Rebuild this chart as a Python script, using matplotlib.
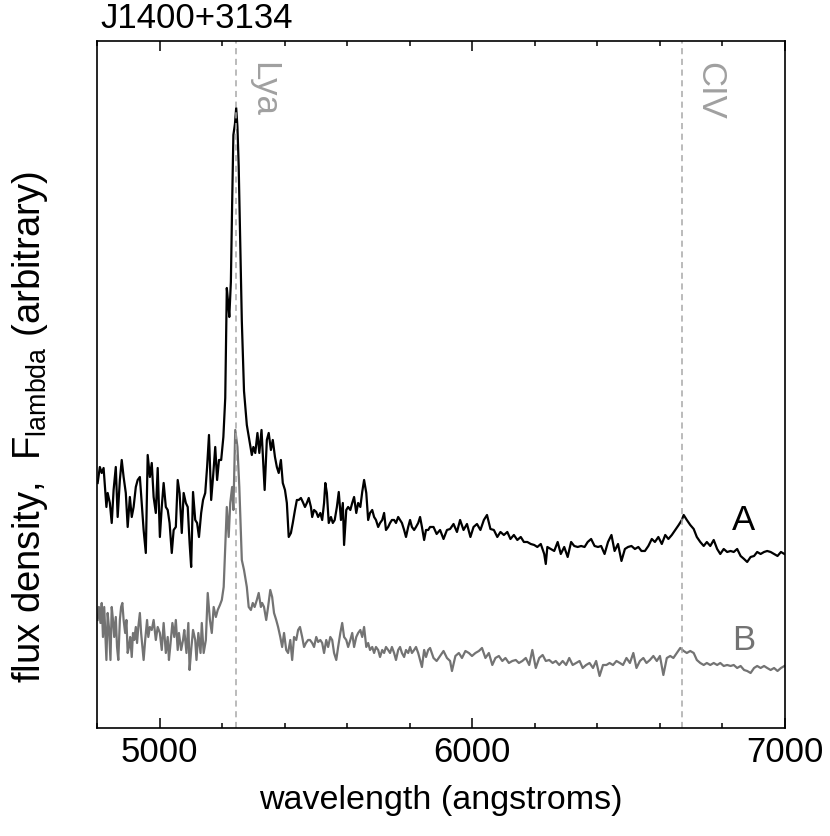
import numpy as np
import matplotlib
matplotlib.use("Agg")
import matplotlib.pyplot as plt
from matplotlib.ticker import MultipleLocator

plt.rcParams["font.family"] = ["Liberation Sans", "DejaVu Sans"]
plt.rcParams["mathtext.fontset"] = "custom"
plt.rcParams["mathtext.rm"] = "Liberation Sans"
plt.rcParams["mathtext.it"] = "Liberation Sans"

# spectre A (noir), longueur d'onde en angstroms, flux arbitraire
wave_a = [
    4802, 4809, 4815, 4821, 4826, 4830, 4834, 4841, 4847, 4853,
    4860, 4866, 4873, 4879, 4885, 4892, 4898, 4905, 4911, 4917,
    4924, 4930, 4937, 4943, 4949, 4956, 4962, 4969, 4975, 4981,
    4988, 4994, 5001, 5007, 5013, 5020, 5026, 5032, 5039, 5045,
    5052, 5058, 5064, 5071, 5077, 5084, 5090, 5096, 5101, 5107,
    5114, 5120, 5126, 5133, 5139, 5146, 5152, 5158, 5165, 5171,
    5178, 5184, 5190, 5197, 5204, 5210, 5215, 5220, 5223, 5228,
    5232, 5236, 5241, 5245, 5249, 5253, 5258, 5263, 5270, 5279,
    5287, 5295, 5300, 5306, 5313, 5319, 5326, 5336, 5343, 5349,
    5356, 5362, 5369, 5375, 5381, 5388, 5394, 5401, 5407, 5413,
    5420, 5426, 5433, 5439, 5445, 5452, 5458, 5465, 5471, 5477,
    5484, 5488, 5494, 5501, 5507, 5514, 5520, 5526, 5530, 5535,
    5541, 5548, 5554, 5560, 5567, 5573, 5580, 5586, 5590, 5597,
    5603, 5610, 5616, 5622, 5629, 5635, 5642, 5648, 5654, 5661,
    5667, 5673, 5680, 5686, 5692, 5699, 5705, 5712, 5718, 5724,
    5731, 5737, 5743, 5750, 5756, 5763, 5769, 5775, 5782, 5788,
    5795, 5801, 5807, 5814, 5820, 5827, 5833, 5839, 5846, 5852,
    5859, 5865, 5876, 5886, 5897, 5908, 5919, 5929, 5940, 5951,
    5961, 5972, 5983, 5994, 6004, 6015, 6026, 6037, 6047, 6058,
    6069, 6080, 6090, 6101, 6112, 6122, 6133, 6144, 6155, 6165,
    6176, 6187, 6198, 6208, 6219, 6230, 6235, 6240, 6251, 6262,
    6273, 6283, 6294, 6305, 6316, 6326, 6337, 6348, 6359, 6369,
    6380, 6391, 6402, 6412, 6423, 6434, 6445, 6455, 6466, 6477,
    6488, 6498, 6509, 6520, 6531, 6541, 6552, 6563, 6574, 6584,
    6595, 6606, 6617, 6627, 6638, 6649, 6660, 6670, 6676, 6686,
    6697, 6708, 6718, 6729, 6740, 6750, 6761, 6772, 6783, 6793,
    6804, 6815, 6826, 6836, 6847, 6858, 6869, 6879, 6890, 6901,
    6911, 6922, 6933, 6943, 6954, 6965, 6976, 6987, 6998,
]
flux_a = [
    2.45, 2.61, 2.55, 2.60, 2.38, 2.21, 2.35, 2.25, 2.05, 2.38,
    2.61, 2.11, 2.48, 2.68, 2.51, 2.35, 2.01, 2.31, 2.11, 2.21,
    2.41, 2.48, 2.51, 2.25, 1.98, 1.75, 2.73, 2.51, 2.65, 2.31,
    2.15, 2.60, 1.91, 2.21, 2.45, 2.21, 2.18, 2.05, 1.75, 1.98,
    2.01, 2.48, 2.35, 1.95, 2.35, 2.25, 2.21, 1.85, 1.61, 2.36,
    2.08, 2.05, 1.91, 2.15, 2.28, 2.35, 2.61, 2.93, 2.28, 2.51,
    2.81, 2.48, 2.68, 2.68, 2.91, 3.30, 4.40, 4.23, 4.11, 4.46,
    5.23, 5.93, 6.04, 6.20, 6.01, 5.62, 4.84, 4.07, 3.37, 3.03,
    2.88, 2.73, 2.81, 2.75, 2.95, 2.75, 2.98, 2.38, 2.88, 2.95,
    2.78, 2.88, 2.71, 2.61, 2.55, 2.68, 2.45, 2.38, 2.25, 1.91,
    1.95, 2.05, 2.18, 2.28, 2.28, 2.30, 2.26, 2.21, 2.25, 2.30,
    2.21, 2.11, 2.18, 2.16, 2.11, 2.15, 2.08, 2.25, 2.45, 2.35,
    2.05, 2.11, 2.05, 2.08, 2.21, 2.36, 2.08, 2.25, 1.83, 2.18,
    2.21, 2.18, 2.25, 2.31, 2.15, 2.25, 2.21, 2.36, 2.48, 2.35,
    2.08, 2.15, 2.18, 2.11, 2.08, 2.01, 2.05, 2.08, 2.15, 1.98,
    2.01, 2.05, 2.08, 2.08, 2.05, 2.11, 2.08, 2.05, 1.98, 1.91,
    2.01, 2.08, 2.01, 1.98, 2.01, 2.05, 2.11, 2.01, 1.88, 1.98,
    1.98, 2.01, 2.01, 1.94, 1.98, 1.89, 1.98, 1.99, 2.04, 1.96,
    2.08, 1.98, 2.04, 1.91, 2.01, 2.04, 1.98, 2.08, 2.13, 1.99,
    1.98, 1.91, 1.96, 1.93, 1.96, 1.89, 1.93, 1.88, 1.91, 1.86,
    1.86, 1.84, 1.83, 1.81, 1.84, 1.74, 1.64, 1.81, 1.79, 1.77,
    1.86, 1.74, 1.81, 1.71, 1.86, 1.82, 1.81, 1.82, 1.81, 1.86,
    1.89, 1.82, 1.81, 1.82, 1.74, 1.86, 1.93, 1.77, 1.84, 1.67,
    1.79, 1.81, 1.82, 1.79, 1.81, 1.77, 1.77, 1.82, 1.89, 1.86,
    1.91, 1.84, 1.93, 1.89, 1.93, 1.98, 2.03, 2.08, 2.13, 2.08,
    2.03, 1.99, 1.91, 1.86, 1.82, 1.86, 1.82, 1.88, 1.79, 1.74,
    1.79, 1.76, 1.77, 1.76, 1.79, 1.72, 1.69, 1.66, 1.71, 1.72,
    1.76, 1.74, 1.76, 1.77, 1.76, 1.74, 1.72, 1.76, 1.74,
]

# spectre B (gris)
wave_b = [
    4802, 4806, 4811, 4815, 4819, 4823, 4830, 4834, 4838, 4843,
    4847, 4851, 4855, 4860, 4864, 4868, 4873, 4877, 4881, 4885,
    4890, 4894, 4898, 4902, 4906, 4911, 4915, 4919, 4924, 4928,
    4932, 4937, 4941, 4945, 4949, 4954, 4960, 4964, 4969, 4975,
    4981, 4988, 4994, 5001, 5007, 5013, 5020, 5026, 5030, 5034,
    5041, 5047, 5052, 5058, 5062, 5069, 5075, 5079, 5086, 5092,
    5096, 5101, 5107, 5114, 5118, 5124, 5131, 5135, 5141, 5148,
    5154, 5161, 5167, 5173, 5180, 5186, 5193, 5199, 5205, 5215,
    5221, 5226, 5232, 5236, 5242, 5249, 5255, 5263, 5270, 5279,
    5285, 5292, 5298, 5304, 5311, 5317, 5324, 5328, 5334, 5341,
    5347, 5354, 5360, 5366, 5373, 5379, 5386, 5392, 5398, 5405,
    5411, 5418, 5424, 5430, 5437, 5443, 5449, 5456, 5462, 5468,
    5475, 5481, 5488, 5494, 5501, 5507, 5514, 5520, 5526, 5533,
    5539, 5546, 5552, 5558, 5565, 5571, 5578, 5584, 5590, 5597,
    5603, 5610, 5616, 5622, 5629, 5635, 5642, 5648, 5654, 5661,
    5667, 5673, 5680, 5686, 5692, 5699, 5705, 5712, 5718, 5724,
    5731, 5737, 5743, 5750, 5756, 5763, 5769, 5775, 5782, 5788,
    5795, 5801, 5807, 5814, 5820, 5827, 5833, 5839, 5846, 5852,
    5859, 5865, 5876, 5886, 5897, 5908, 5919, 5929, 5935, 5946,
    5957, 5967, 5978, 5989, 5999, 6010, 6021, 6031, 6042, 6053,
    6064, 6074, 6085, 6096, 6106, 6117, 6128, 6139, 6149, 6160,
    6171, 6182, 6192, 6203, 6214, 6225, 6235, 6246, 6257, 6267,
    6278, 6289, 6300, 6310, 6321, 6332, 6343, 6353, 6364, 6375,
    6386, 6396, 6407, 6418, 6429, 6439, 6450, 6461, 6472, 6482,
    6493, 6504, 6515, 6525, 6536, 6547, 6557, 6568, 6579, 6590,
    6600, 6611, 6622, 6633, 6643, 6654, 6665, 6676, 6686, 6697,
    6708, 6718, 6729, 6740, 6750, 6761, 6772, 6783, 6793, 6804,
    6815, 6826, 6836, 6847, 6858, 6869, 6879, 6890, 6901, 6911,
    6922, 6933, 6943, 6954, 6965, 6976, 6987, 6998,
]
flux_b = [
    1.08, 1.21, 1.05, 1.25, 0.91, 1.21, 0.68, 1.15, 1.01, 0.68,
    1.21, 1.08, 0.91, 1.11, 0.81, 0.68, 1.08, 1.21, 1.25, 1.08,
    0.95, 1.08, 0.75, 0.81, 0.91, 0.71, 0.95, 0.88, 1.01, 0.85,
    1.01, 1.15, 0.95, 0.81, 0.68, 0.88, 1.08, 0.91, 1.01, 0.98,
    1.08, 0.88, 1.01, 0.95, 0.78, 1.05, 0.75, 0.91, 0.68, 0.81,
    1.05, 0.91, 1.08, 0.78, 0.95, 0.78, 0.88, 0.98, 0.75, 1.05,
    0.58, 0.78, 0.98, 0.88, 0.68, 0.95, 0.75, 1.05, 0.75, 0.88,
    1.35, 1.08, 0.95, 1.21, 1.11, 1.18, 1.23, 1.28, 1.41, 2.21,
    1.91, 2.25, 2.41, 2.18, 2.98, 2.81, 2.41, 1.68, 1.58, 1.41,
    1.21, 1.18, 1.25, 1.21, 1.28, 1.35, 1.21, 1.25, 1.21, 1.08,
    1.21, 1.38, 1.31, 1.15, 1.08, 1.01, 0.91, 0.81, 0.95, 0.78,
    0.75, 0.88, 0.68, 0.91, 0.88, 0.98, 1.01, 0.91, 0.81, 0.85,
    0.88, 0.88, 0.85, 0.81, 0.91, 0.86, 0.88, 0.85, 0.75, 0.88,
    0.81, 0.91, 0.88, 0.75, 0.68, 0.81, 0.95, 1.05, 0.91, 0.88,
    0.81, 0.88, 0.95, 0.81, 0.91, 0.95, 0.98, 0.91, 1.01, 0.81,
    0.85, 0.78, 0.81, 0.75, 0.81, 0.78, 0.71, 0.78, 0.75, 0.81,
    0.78, 0.75, 0.81, 0.75, 0.68, 0.78, 0.81, 0.75, 0.71, 0.78,
    0.75, 0.81, 0.75, 0.78, 0.81, 0.75, 0.68, 0.61, 0.78, 0.71,
    0.78, 0.80, 0.70, 0.67, 0.72, 0.77, 0.70, 0.67, 0.57, 0.72,
    0.75, 0.70, 0.77, 0.75, 0.72, 0.75, 0.77, 0.80, 0.70, 0.75,
    0.63, 0.70, 0.72, 0.67, 0.70, 0.65, 0.67, 0.68, 0.65, 0.67,
    0.70, 0.63, 0.78, 0.60, 0.70, 0.73, 0.67, 0.68, 0.65, 0.67,
    0.63, 0.67, 0.63, 0.70, 0.63, 0.65, 0.67, 0.60, 0.63, 0.65,
    0.60, 0.67, 0.52, 0.63, 0.63, 0.65, 0.63, 0.67, 0.65, 0.63,
    0.70, 0.65, 0.75, 0.60, 0.67, 0.70, 0.65, 0.68, 0.72, 0.67,
    0.72, 0.53, 0.70, 0.72, 0.70, 0.75, 0.80, 0.77, 0.75, 0.77,
    0.75, 0.68, 0.65, 0.63, 0.65, 0.63, 0.65, 0.63, 0.65, 0.62,
    0.63, 0.62, 0.63, 0.60, 0.62, 0.58, 0.57, 0.55, 0.60, 0.62,
    0.60, 0.62, 0.60, 0.58, 0.60, 0.57, 0.60, 0.62,
]

# raies d'emission
raies = ["Lya", "CIV"]
raies_wave = [5245, 6672]

fig = plt.figure(figsize=(8.3, 8.36), dpi=100)
ax = fig.add_axes([0.1169, 0.1292, 0.8289, 0.8218])

ax.plot(wave_a, flux_a, color="black", lw=1.6)
ax.plot(wave_b, flux_b, color="#737373", lw=1.6)

for nom, w in zip(raies, raies_wave):
    ax.axvline(w, color="#a8a8a8", lw=1.1, linestyle=(0, (4, 3)))
    ax.text(w + 36, 6.66, nom, rotation=270, ha="left", va="top",
            color="#a0a0a0", fontsize=25)

ax.text(6868, 2.07, "A", ha="center", va="center", fontsize=25, color="black")
ax.text(6868, 0.87, "B", ha="center", va="center", fontsize=25, color="#737373")

ax.set_xlim(4800, 7000)
ax.set_ylim(0, 6.87)
ax.xaxis.set_major_locator(MultipleLocator(1000))
ax.xaxis.set_minor_locator(MultipleLocator(200))
ax.tick_params(which="both", direction="in", top=True, bottom=True,
               left=False, right=False, labelleft=False, width=1.1)
ax.tick_params(which="major", length=7.2, labelsize=25, pad=6)
ax.tick_params(which="minor", length=3.6)
for s in ax.spines.values():
    s.set_linewidth(1.2)

ax.set_xlabel("wavelength (angstroms)", fontsize=24.5, labelpad=11)
fig.text(30 / 830, 1 - 427 / 836,
         r"flux density,  F$_{\mathrm{lambda}}$ (arbitrary)",
         rotation=90, ha="center", va="center", fontsize=27.5)
ax.text(0.005, 1.019, "J1400+3134", transform=ax.transAxes,
        ha="left", va="baseline", fontsize=25)

fig.savefig("out.png", dpi=100)
